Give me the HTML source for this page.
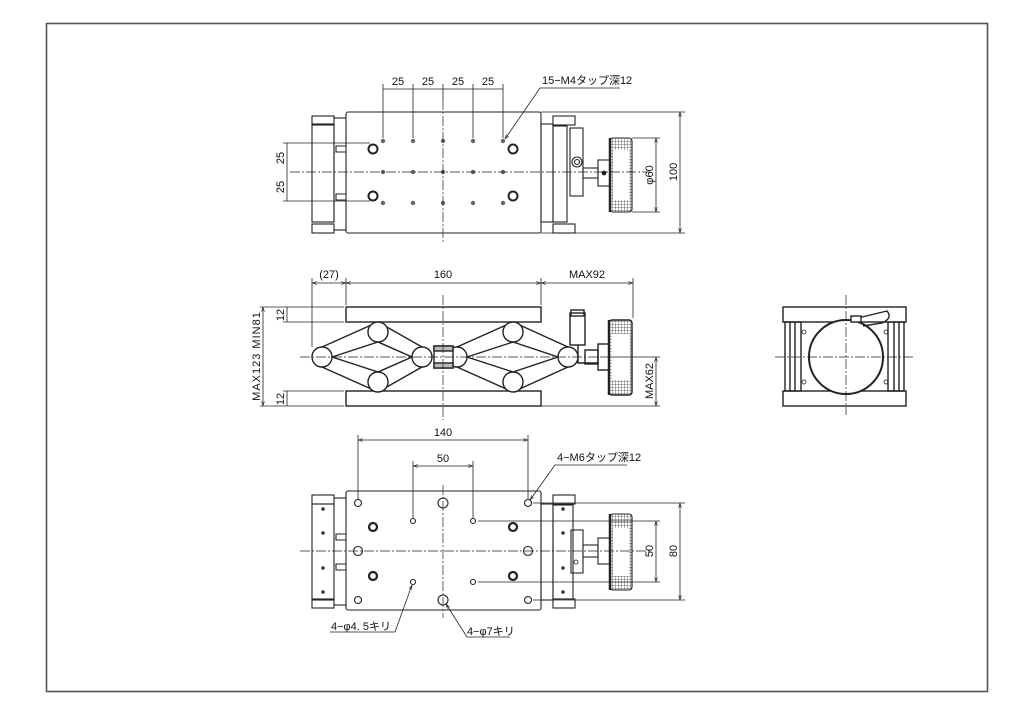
<!DOCTYPE html>
<html><head><meta charset="utf-8"><style>
html,body{margin:0;padding:0;background:#fff;}
svg{display:block}
text{font-family:"Liberation Sans","Noto Sans CJK JP",sans-serif;font-size:11px;fill:#111}
</style></head><body>
<svg width="1024" height="724" viewBox="0 0 1024 724" xmlns="http://www.w3.org/2000/svg">
<defs>
<marker id="a" viewBox="0 0 10 10" refX="10" refY="5" markerWidth="6" markerHeight="6" orient="auto-start-reverse"><path d="M0,2 L10,5 L0,8" fill="none" stroke="#222" stroke-width="1.2"/></marker>
<pattern id="kn" width="3" height="3" patternUnits="userSpaceOnUse"><rect width="3" height="3" fill="#fff"/><path d="M0,0H3M0,0V3" stroke="#444" stroke-width="0.8"/></pattern>
</defs>
<rect x="46.5" y="23.5" width="941" height="668" fill="none" stroke="#555" stroke-width="1.6"/>

<g fill="none" stroke="#222" stroke-width="0.8">
<!-- ============ TOP VIEW ============ -->
<g stroke-width="1.1">
<rect x="346" y="112" width="195" height="121" rx="2"/>
<rect x="312" y="124" width="22" height="98"/>
<rect x="312" y="116" width="22" height="9"/><rect x="312" y="224" width="22" height="9"/>
<line x1="334" y1="118" x2="346" y2="118"/><line x1="334" y1="230" x2="346" y2="230"/>
<line x1="334" y1="124" x2="334" y2="222"/>
<path d="M346,152 h-10 v-6 h10 M346,200 h-10 v-6 h10"/>
<rect x="541" y="124" width="12" height="98"/>
<rect x="553" y="116" width="22" height="9"/><rect x="553" y="224" width="22" height="9"/>
<rect x="553" y="126" width="14" height="96"/>
<rect x="570" y="128" width="13" height="68"/>
<circle cx="577" cy="162" r="5"/><circle cx="577" cy="162" r="2.5"/>
<rect x="583" y="168" width="15" height="10"/>
<rect x="598" y="160" width="12" height="26"/>
<rect x="610" y="138" width="22" height="74" rx="3" fill="url(#kn)"/>
<rect x="613" y="150" width="16" height="50" fill="#fff" stroke="none"/>
<line x1="610" y1="138" x2="610" y2="212" stroke-width="2.5"/>
</g>
<circle cx="604" cy="173" r="2" fill="#222"/>
<g fill="#666" stroke="none">
<circle cx="383" cy="141" r="2.2"/><circle cx="413" cy="141" r="2.2"/><circle cx="443" cy="141" r="2.2"/><circle cx="473" cy="141" r="2.2"/><circle cx="503" cy="141" r="2.2"/>
<circle cx="383" cy="172" r="2.2"/><circle cx="413" cy="172" r="2.2"/><circle cx="443" cy="172" r="2.2"/><circle cx="473" cy="172" r="2.2"/><circle cx="503" cy="172" r="2.2"/>
<circle cx="383" cy="203" r="2.2"/><circle cx="413" cy="203" r="2.2"/><circle cx="443" cy="203" r="2.2"/><circle cx="473" cy="203" r="2.2"/><circle cx="503" cy="203" r="2.2"/>
</g>
<g stroke-width="2"><circle cx="373" cy="149" r="4.5"/><circle cx="373" cy="196" r="4.5"/><circle cx="513" cy="149" r="4.5"/><circle cx="513" cy="196" r="4.5"/></g>
<!-- center lines -->
<g stroke-dasharray="10,2,2,2" stroke-width="0.7">
<line x1="443" y1="100" x2="443" y2="243"/><line x1="290" y1="172" x2="650" y2="172"/>
</g>
<!-- dims -->
<line x1="383" y1="84" x2="383" y2="138"/><line x1="413" y1="84" x2="413" y2="138"/><line x1="443" y1="84" x2="443" y2="100"/><line x1="473" y1="84" x2="473" y2="138"/><line x1="503" y1="84" x2="503" y2="138"/>
<line x1="383" y1="89" x2="503" y2="89"/>
<line x1="283" y1="143" x2="370" y2="143"/><line x1="283" y1="201" x2="370" y2="201"/>
<line x1="287" y1="143" x2="287" y2="201"/>
<line x1="541" y1="112" x2="685" y2="112"/><line x1="541" y1="233" x2="685" y2="233"/>
<line x1="680" y1="112" x2="680" y2="233" marker-start="url(#a)" marker-end="url(#a)"/>
<line x1="632" y1="138" x2="660" y2="138"/><line x1="632" y1="212" x2="660" y2="212"/>
<line x1="656" y1="138" x2="656" y2="212" marker-start="url(#a)" marker-end="url(#a)"/>
<polyline points="620,88 540,88 505,139" marker-end="url(#a)"/>

<!-- ============ FRONT VIEW ============ -->
<g stroke-width="1.4">
<rect x="346" y="307" width="195" height="15"/>
<rect x="346" y="391" width="195" height="15"/>
<path d="M322,347 L378,322 M322,367 L378,392 M378,322 L422,347 M378,392 L422,367 M332,357 L378,342 L412,357 L378,372 Z"/>
<path d="M457,347 L513,322 M457,367 L513,392 M513,322 L568,347 M513,392 L568,367 M467,357 L513,342 L558,357 L513,372 Z"/>
<circle cx="322" cy="357" r="10" fill="#fff"/><circle cx="378" cy="332" r="10" fill="#fff"/><circle cx="378" cy="382" r="10" fill="#fff"/><circle cx="422" cy="357" r="10" fill="#fff"/>
<circle cx="457" cy="357" r="10" fill="#fff"/><circle cx="513" cy="332" r="10" fill="#fff"/><circle cx="513" cy="382" r="10" fill="#fff"/><circle cx="568" cy="357" r="10" fill="#fff"/>
<rect x="434" y="346" width="19" height="22" fill="#fff"/>
<rect x="434" y="346" width="19" height="5" fill="#bbb"/><rect x="434" y="363" width="19" height="5" fill="#bbb"/>
<rect x="570" y="313" width="15" height="32"/><rect x="571" y="310" width="13" height="6"/>
<path d="M578,345 v18 h20"/>
<rect x="585" y="350" width="13" height="14"/>
<rect x="598" y="344" width="12" height="26"/>
<rect x="609" y="320" width="23" height="75" rx="3" fill="url(#kn)"/>
<rect x="612" y="334" width="18" height="46" fill="#fff" stroke="none"/>
<line x1="609" y1="320" x2="609" y2="395" stroke-width="2.5"/>
<rect x="783" y="307" width="123" height="15"/><rect x="783" y="391" width="123" height="15"/>
<rect x="785" y="322" width="16" height="69"/><rect x="888" y="322" width="16" height="69"/>
<line x1="790" y1="322" x2="790" y2="391"/><line x1="795" y1="322" x2="795" y2="391"/><line x1="894" y1="322" x2="894" y2="391"/><line x1="899" y1="322" x2="899" y2="391"/>
<circle cx="846" cy="357" r="37" fill="#fff" stroke-width="2"/>
<path d="M858,318 L887,311 Q893,318 882,323 L863,326"/>
<rect x="851" y="316" width="10" height="6" fill="#fff"/>
</g>
<circle cx="804" cy="332" r="2"/><circle cx="804" cy="382" r="2"/><circle cx="886" cy="332" r="2"/><circle cx="886" cy="382" r="2"/>
<g stroke-dasharray="10,2,2,2" stroke-width="0.7">
<line x1="443" y1="295" x2="443" y2="420"/><line x1="300" y1="357" x2="600" y2="357"/>
<line x1="846" y1="295" x2="846" y2="415"/><line x1="775" y1="357" x2="915" y2="357"/>
</g>
<line x1="312" y1="278" x2="312" y2="347"/><line x1="346" y1="278" x2="346" y2="305"/><line x1="541" y1="278" x2="541" y2="305"/><line x1="633" y1="278" x2="633" y2="318"/>
<line x1="312" y1="283" x2="346" y2="283" marker-start="url(#a)" marker-end="url(#a)"/>
<line x1="346" y1="283" x2="541" y2="283" marker-start="url(#a)" marker-end="url(#a)"/>
<line x1="541" y1="283" x2="633" y2="283" marker-start="url(#a)" marker-end="url(#a)"/>
<line x1="260" y1="307" x2="344" y2="307"/><line x1="260" y1="406" x2="344" y2="406"/>
<line x1="283" y1="322" x2="344" y2="322"/><line x1="283" y1="391" x2="344" y2="391"/>
<line x1="263" y1="307" x2="263" y2="406" marker-start="url(#a)" marker-end="url(#a)"/>
<line x1="287" y1="307" x2="287" y2="322"/><line x1="287" y1="391" x2="287" y2="406"/>
<line x1="541" y1="406" x2="660" y2="406"/><line x1="600" y1="357" x2="660" y2="357"/>
<line x1="656" y1="357" x2="656" y2="406" marker-start="url(#a)" marker-end="url(#a)"/>

<!-- ============ BOTTOM VIEW ============ -->
<g stroke-width="1.1">
<rect x="346" y="491" width="195" height="119" rx="2"/>
<rect x="312" y="504" width="22" height="96"/>
<rect x="312" y="495" width="22" height="9"/><rect x="312" y="599" width="22" height="9"/>
<line x1="334" y1="498" x2="346" y2="498"/><line x1="334" y1="605" x2="346" y2="605"/>
<path d="M346,540 h-10 v-6 h10 M346,570 h-10 v-6 h10"/>
<rect x="541" y="504" width="12" height="96"/>
<rect x="553" y="495" width="22" height="9"/><rect x="553" y="599" width="22" height="9"/>
<rect x="553" y="505" width="20" height="94"/>
<rect x="571" y="530" width="12" height="43"/>
<rect x="583" y="545" width="15" height="12"/>
<rect x="598" y="538" width="12" height="26"/>
<rect x="610" y="514" width="22" height="76" rx="3" fill="url(#kn)"/>
<rect x="613" y="528" width="16" height="48" fill="#fff" stroke="none"/>
<line x1="610" y1="514" x2="610" y2="590" stroke-width="2.5"/>
</g>
<g fill="#333" stroke="none"><circle cx="323" cy="509" r="1.8"/><circle cx="323" cy="533" r="1.8"/><circle cx="323" cy="568" r="1.8"/><circle cx="323" cy="592" r="1.8"/>
<circle cx="563" cy="509" r="1.8"/><circle cx="563" cy="533" r="1.8"/><circle cx="563" cy="568" r="1.8"/><circle cx="563" cy="592" r="1.8"/></g>
<circle cx="576" cy="562" r="2"/>
<g stroke-width="1.1">
<circle cx="358" cy="503" r="3.5"/><circle cx="528" cy="503" r="3.5"/><circle cx="358" cy="600" r="3.5"/><circle cx="528" cy="600" r="3.5"/>
<circle cx="358" cy="551" r="4.5"/><circle cx="528" cy="551" r="4.5"/><circle cx="443" cy="503" r="5"/><circle cx="443" cy="600" r="5"/>
<circle cx="413" cy="521" r="2.5"/><circle cx="473" cy="521" r="2.5"/><circle cx="413" cy="582" r="2.5"/><circle cx="473" cy="582" r="2.5"/>
</g>
<g stroke-width="2.2"><circle cx="373" cy="527" r="4"/><circle cx="373" cy="576" r="4"/><circle cx="513" cy="527" r="4"/><circle cx="513" cy="576" r="4"/></g>
<g stroke-dasharray="10,2,2,2" stroke-width="0.7">
<line x1="443" y1="485" x2="443" y2="618"/><line x1="300" y1="551" x2="650" y2="551"/>
</g>
<line x1="358" y1="435" x2="358" y2="499"/><line x1="528" y1="435" x2="528" y2="499"/>
<line x1="358" y1="440" x2="528" y2="440" marker-start="url(#a)" marker-end="url(#a)"/>
<line x1="413" y1="461" x2="413" y2="518"/><line x1="473" y1="461" x2="473" y2="518"/>
<line x1="413" y1="466" x2="473" y2="466" marker-start="url(#a)" marker-end="url(#a)"/>
<line x1="533" y1="503" x2="685" y2="503"/><line x1="533" y1="600" x2="685" y2="600"/>
<line x1="680" y1="503" x2="680" y2="600" marker-start="url(#a)" marker-end="url(#a)"/>
<line x1="478" y1="521" x2="660" y2="521"/><line x1="478" y1="582" x2="660" y2="582"/>
<line x1="656" y1="521" x2="656" y2="582" marker-start="url(#a)" marker-end="url(#a)"/>
<polyline points="627,465 555,465 530,500" marker-end="url(#a)"/>
<polyline points="330,632 395,632 412,585" marker-end="url(#a)"/>
<polyline points="510,637 467,637 446,604" marker-end="url(#a)"/>
</g>

<!-- text -->
<text x="398" y="85" text-anchor="middle">25</text><text x="428" y="85" text-anchor="middle">25</text><text x="458" y="85" text-anchor="middle">25</text><text x="488" y="85" text-anchor="middle">25</text>
<text x="542" y="84" font-size="10">15−M4タップ深12</text>
<text transform="translate(284,158) rotate(-90)" text-anchor="middle">25</text>
<text transform="translate(284,187) rotate(-90)" text-anchor="middle">25</text>
<text transform="translate(653,175) rotate(-90)" text-anchor="middle">φ60</text>
<text transform="translate(677,172) rotate(-90)" text-anchor="middle">100</text>
<text x="329" y="278" text-anchor="middle">(27)</text>
<text x="443" y="278" text-anchor="middle">160</text>
<text x="587" y="278" text-anchor="middle">MAX92</text>
<text transform="translate(260,356) rotate(-90)" text-anchor="middle" letter-spacing="1">MAX123 MIN81</text>
<text transform="translate(284,315) rotate(-90)" text-anchor="middle">12</text>
<text transform="translate(284,399) rotate(-90)" text-anchor="middle">12</text>
<text transform="translate(653,381) rotate(-90)" text-anchor="middle">MAX62</text>
<text x="443" y="436" text-anchor="middle">140</text>
<text x="443" y="462" text-anchor="middle">50</text>
<text x="557" y="461" font-size="10">4−M6タップ深12</text>
<text transform="translate(653,551) rotate(-90)" text-anchor="middle">50</text>
<text transform="translate(677,551) rotate(-90)" text-anchor="middle">80</text>
<text x="331" y="630" font-size="10">4−φ4. 5キリ</text>
<text x="467" y="635" font-size="10">4−φ7キリ</text>
</svg>
</body></html>
